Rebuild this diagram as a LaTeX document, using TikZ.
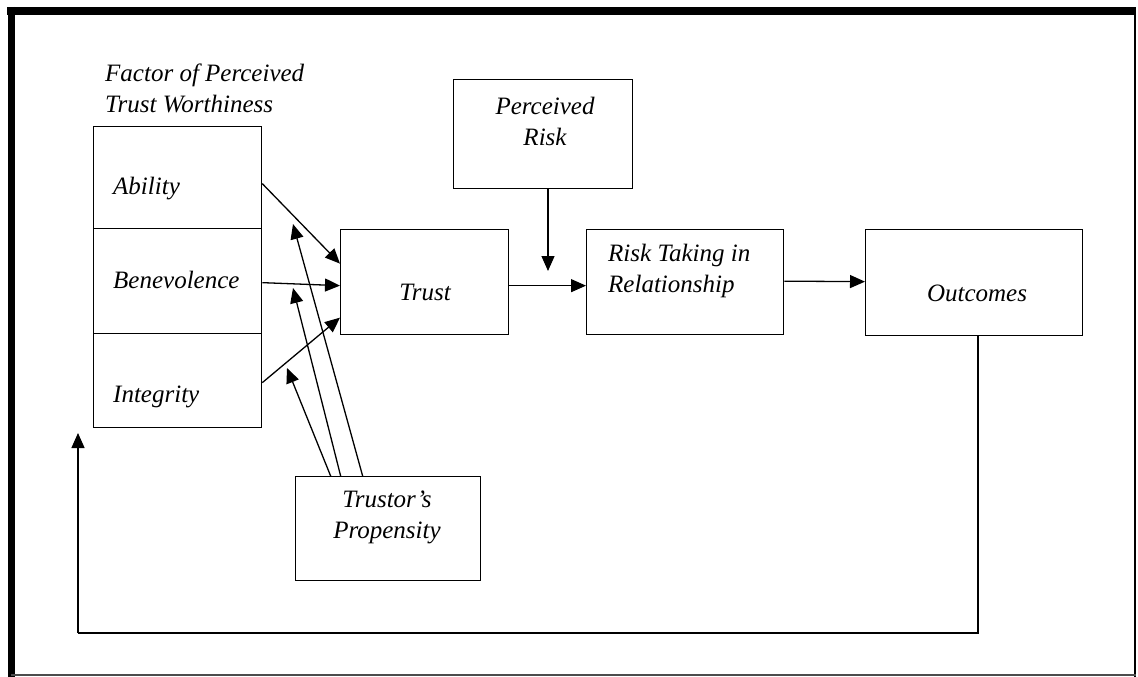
\documentclass[tikz,border=0pt]{standalone}
\usepackage{fontspec}
\setmainfont{Liberation Serif}
\usetikzlibrary{arrows.meta,calc}
\begin{document}
\begin{tikzpicture}[x=1pt,y=-1pt,
  box/.style={draw=black,line width=1.3pt,inner sep=0pt,anchor=north west},
  lbl/.style={font=\fontsize{25}{31}\selectfont\itshape,inner sep=0pt,align=center},
  lbll/.style={font=\fontsize{25}{31}\selectfont\itshape,inner sep=0pt,anchor=west},
  arr/.style={line width=1.3pt,-{Triangle[length=15pt,width=13pt]}},
  ln/.style={line width=1.3pt}]
\useasboundingbox (0,0) rectangle (1138,677);
% outer frame
\draw[line width=8pt] (7,11) -- (1136,11);
\draw[line width=7pt] (11,7) -- (11,677);
\draw[line width=2.5pt] (1135,11) -- (1135,677);
\draw[line width=2pt,black!70] (11,675) -- (1136,675);
% factor boxes
\node[box,minimum width=168pt,minimum height=102pt] (abil) at (93,126) {};
\node[box,minimum width=168pt,minimum height=105pt] (bene) at (93,228) {};
\node[box,minimum width=168pt,minimum height=94pt] (inte) at (93,333) {};
\node[lbll] (tabil) at (113,189) {Ability};
\node[lbll] (tbene) at (113,280) {Benevolence};
\node[lbll] (tinte) at (113,397) {Integrity};
\node[lbl,align=left,anchor=west] (factor) at (105,88) {Factor of Perceived\\Trust Worthiness};
% main boxes
\node[box,minimum width=168pt,minimum height=105pt] (trust) at (340,229) {};
\node[lbl] (ttrust) at (425,292) {Trust};
\node[box,minimum width=179pt,minimum height=109pt] (prisk) at (453,79) {};
\node[lbl] (tprisk) at (545,121) {Perceived\\Risk};
\node[box,minimum width=197pt,minimum height=105pt] (risk) at (586,229) {};
\node[lbll,align=left] (trisk) at (608,271) {Risk Taking in\\Relationship};
\node[box,minimum width=217pt,minimum height=106pt] (outc) at (865,229) {};
\node[lbl] (toutc) at (977,293) {Outcomes};
\node[box,minimum width=185pt,minimum height=104pt] (prop) at (295,476) {};
\node[lbl] (tprop) at (387,517) {Trustor's\\Propensity};
% connectors factors -> trust
\draw[arr] ($(abil.east)+(0,6)$) -- ($(trust.west)+(0,-18.5)$);
\draw[arr] ($(bene.east)+(0,1.5)$) -- ($(trust.west)+(0,3.5)$);
\draw[arr] ($(inte.east)+(0,2)$) -- ($(trust.west)+(0,35.5)$);
% propensity arrows
\coordinate (p1) at (293,224);
\coordinate (p2) at (293,288);
\coordinate (p3) at (287,368);
\draw[arr] ($(prop.north)+(-25.5,0)$) -- (p1);
\draw[arr] ($(prop.north)+(-47.5,0)$) -- (p2);
\draw[arr] ($(prop.north)+(-57.5,0)$) -- (p3);
% trust -> risk, perceived risk
\draw[arr] ($(trust.east)+(0,3.5)$) -- ($(risk.west)+(0,3.5)$);
\coordinate (pr) at (548,271);
\draw[arr] (prisk.south -| pr) -- (pr);
\draw[arr] ($(risk.east)+(0,-1)$) -- ($(outc.west)+(0,-1)$);
% feedback
\coordinate (fb) at (78,433);
\draw[ln] (outc.south -| 978,0) -- (978,633) -- (78,633);
\draw[arr] (78,633) -- (fb);
\end{tikzpicture}
\end{document}
